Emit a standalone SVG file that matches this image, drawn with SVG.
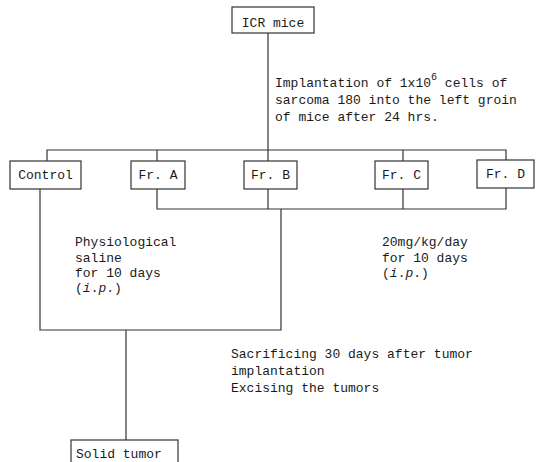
<svg xmlns="http://www.w3.org/2000/svg" width="541" height="462" viewBox="0 0 541 462">
<style>
.box{fill:#fff;stroke:#333;stroke-width:1.2}
.ln{fill:none;stroke:#333;stroke-width:1.2}
text{font-family:"Liberation Mono","DejaVu Sans Mono",monospace;font-size:13px;fill:#1a1a1a}
.c{text-anchor:middle}
</style>
<rect width="541" height="462" fill="#fff"/>
<g id="connectors">
<path class="ln" d="M268 33V150"/>
<path class="ln" d="M47 162V150H506V160"/>
<path class="ln" d="M157 150V161M268 150V161M403 150V161"/>
<path class="ln" d="M157 189V209H506V188"/>
<path class="ln" d="M268 189V209M403 189V209"/>
<path class="ln" d="M40 189V330H281V209"/>
<path class="ln" d="M126 330V440"/>
</g>
<g id="icr">
<rect class="box" x="232" y="7" width="82" height="26"/>
<text class="c" x="273" y="27">ICR mice</text>
</g>
<g id="implant-label">
<text x="275" y="87">Implantation of 1x10<tspan dy="-7" font-size="10">6</tspan><tspan dy="7"> cells of</tspan></text>
<text x="275" y="104">sarcoma 180 into the left groin</text>
<text x="275" y="121">of mice after 24 hrs.</text>
</g>
<g id="control">
<rect class="box" x="10" y="161" width="71" height="28"/>
<text class="c" x="45.5" y="179">Control</text>
</g>
<g id="frA">
<rect class="box" x="131" y="161" width="54" height="28"/>
<text class="c" x="158" y="179">Fr. A</text>
</g>
<g id="frB">
<rect class="box" x="244" y="161" width="53" height="28"/>
<text class="c" x="270.5" y="179">Fr. B</text>
</g>
<g id="frC">
<rect class="box" x="375" y="161" width="53" height="28"/>
<text class="c" x="401.5" y="179">Fr. C</text>
</g>
<g id="frD">
<rect class="box" x="477" y="160" width="57" height="28"/>
<text class="c" x="505.5" y="178">Fr. D</text>
</g>
<g id="saline-label">
<text x="75" y="246">Physiological</text>
<text x="75" y="262">saline</text>
<text x="75" y="277">for 10 days</text>
<text x="75" y="292">(<tspan font-style="italic">i</tspan>.<tspan font-style="italic">p</tspan>.)</text>
</g>
<g id="dose-label">
<text x="382" y="246">20mg/kg/day</text>
<text x="382" y="262">for 10 days</text>
<text x="382" y="277">(<tspan font-style="italic">i</tspan>.<tspan font-style="italic">p</tspan>.)</text>
</g>
<g id="sacrifice-label">
<text x="231" y="358">Sacrificing 30 days after tumor</text>
<text x="231" y="375">implantation</text>
<text x="231" y="392">Excising the tumors</text>
</g>
<g id="solid">
<rect class="box" x="71" y="440" width="107" height="30"/>
<text x="76" y="458">Solid tumor</text>
</g>
</svg>
